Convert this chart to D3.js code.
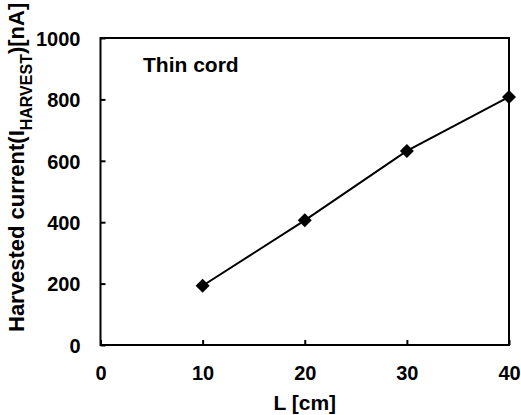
<!DOCTYPE html>
<html>
<head>
<meta charset="utf-8">
<script src="https://cdn.jsdelivr.net/npm/d3@7"></script>
<style>
body { margin: 0; background: #fff; }
svg { display: block; font-family: "Liberation Sans", Arial, sans-serif; font-weight: bold; }
</style>
</head>
<body>
<div></div>
<script>
const WIDTH = 521;
const HEIGHT = 415;
const MARGIN = { top: 38, right: 12, bottom: 70, left: 100.5 };
// data
const lengths = [10, 20, 30, 40];
const currents = [193, 406, 632, 808];
const xTicks = [0, 10, 20, 30, 40];
const yTicks = [0, 200, 400, 600, 800, 1000];

const plotW = WIDTH - MARGIN.left - MARGIN.right;
const plotH = HEIGHT - MARGIN.top - MARGIN.bottom;

const svg = d3.select('div').append('svg')
    .attr('width', WIDTH)
    .attr('height', HEIGHT);

const g = svg.append('g')
    .attr('transform', 'translate(' + MARGIN.left + ',' + MARGIN.top + ')');

const x = d3.scaleLinear().domain([0, 40]).range([0, plotW]);
const y = d3.scaleLinear().domain([0, 1000]).range([plotH, 0]);

// frame
g.append('rect')
    .attr('width', plotW)
    .attr('height', plotH)
    .attr('fill', 'none')
    .attr('stroke', 'black')
    .attr('stroke-width', 2);

// x axis, ticks pointing in
const xAxis = g.append('g')
    .attr('transform', 'translate(0,' + plotH + ')')
    .call(d3.axisBottom(x).tickValues(xTicks).tickFormat(d3.format('d'))
        .tickSizeInner(-5).tickSizeOuter(0).tickPadding(0));
xAxis.select('.domain').remove();
xAxis.selectAll('line').attr('stroke-width', 2);
xAxis.selectAll('text')
    .attr('font-size', 20)
    .attr('font-family', '"Liberation Sans", Arial, sans-serif')
    .attr('font-weight', 'bold')
    .attr('dy', null)
    .attr('y', 35);

// y axis
const yAxis = g.append('g')
    .call(d3.axisLeft(y).tickValues(yTicks).tickFormat(d3.format('d'))
        .tickSizeInner(-5).tickSizeOuter(0).tickPadding(0));
yAxis.select('.domain').remove();
yAxis.selectAll('line').attr('stroke-width', 2);
yAxis.selectAll('text')
    .attr('font-size', 20)
    .attr('font-family', '"Liberation Sans", Arial, sans-serif')
    .attr('font-weight', 'bold')
    .attr('x', -20)
    .attr('dy', '0.36em');

// line
const line = d3.line()
    .x((d, i) => x(lengths[i]))
    .y(d => y(d));
g.append('path')
    .datum(currents)
    .attr('fill', 'none')
    .attr('stroke', 'black')
    .attr('stroke-width', 2)
    .attr('d', line);

// diamond markers
g.selectAll('.marker')
    .data(currents)
    .enter().append('path')
    .attr('class', 'marker')
    .attr('transform', (d, i) => 'translate(' + x(lengths[i]) + ',' + y(d) + ')')
    .attr('d', 'M0,-7L7,0L0,7L-7,0Z')
    .attr('fill', 'black');

// annotation
g.append('text')
    .attr('x', 42.5)
    .attr('y', 34)
    .attr('font-size', 21)
    .text('Thin cord');

// x title
svg.append('text')
    .attr('x', MARGIN.left + x(20))
    .attr('y', 410)
    .attr('text-anchor', 'middle')
    .attr('font-size', 21)
    .text('L [cm]');

// y title
const yTitle = svg.append('text')
    .attr('transform', 'translate(24,332) rotate(-90)')
    .attr('font-size', 22);
yTitle.append('tspan').text('Harvested current(I');
yTitle.append('tspan').attr('font-size', 16).attr('dy', 8).text('HARVEST');
yTitle.append('tspan').attr('dy', -8).text(')[nA]');
</script>
</body>
</html>
